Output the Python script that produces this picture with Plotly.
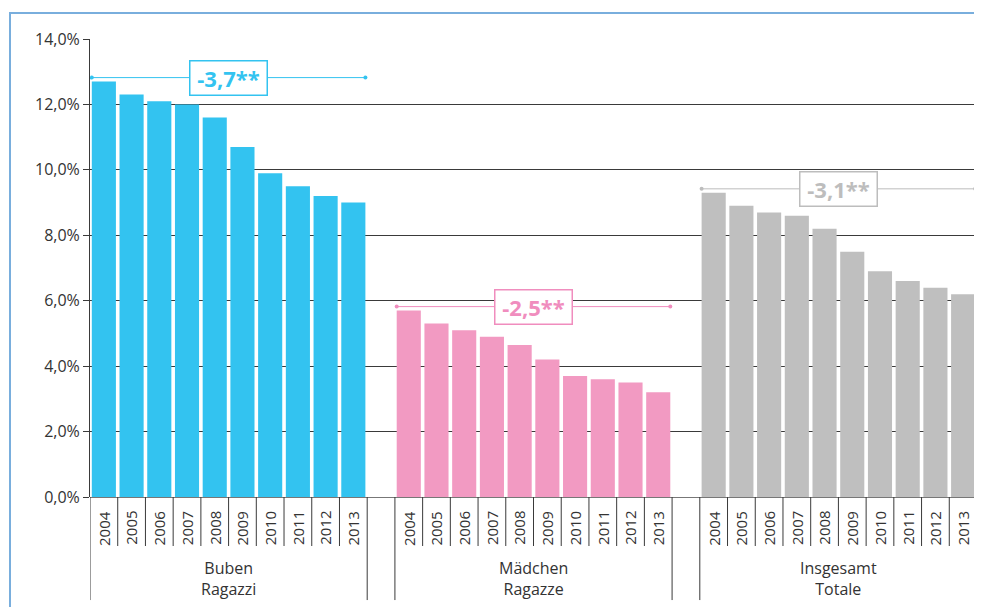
import plotly.graph_objects as go

years = ["2004", "2005", "2006", "2007", "2008", "2009", "2010", "2011", "2012", "2013"]
groups = ["Buben<br>Ragazzi", "Mädchen<br>Ragazze", "Insgesamt<br>Totale"]
buben = [12.7, 12.3, 12.1, 12.0, 11.6, 10.7, 9.9, 9.5, 9.2, 9.0]
maedchen = [5.7, 5.3, 5.1, 4.9, 4.65, 4.2, 3.7, 3.6, 3.5, 3.2]
insgesamt = [9.3, 8.9, 8.7, 8.6, 8.2, 7.5, 6.9, 6.6, 6.4, 6.2]
changes = ["-3,7**", "-2,5**", "-3,1**"]
colors = ["#33C3F0", "#F29AC2", "#BFBFBF"]
text_colors = ["#33C3F0", "#F08DBE", "#BDBDBD"]
y_ticks = [0, 2, 4, 6, 8, 10, 12, 14]

series = [buben, maedchen, insgesamt]
FONT = "Open Sans, Noto Sans, sans-serif"
DARK = "#3a3a3a"

fig = go.Figure()
annotations = []
shapes = []

n = len(years)
slot = n + 1  # 10 bars + one gap slot
total_slots = 3 * n + 2
bw = 0.87

for g, vals in enumerate(series):
    s0 = g * slot
    xs = [s0 + i for i in range(n)]
    fig.add_trace(go.Bar(x=xs, y=vals, marker=dict(color=colors[g], line=dict(width=0)),
                         width=bw, showlegend=False, hoverinfo="y"))
    # bracket line with end dots
    lvl = vals[0] + 0.12
    fig.add_trace(go.Scatter(x=[xs[0] - bw / 2, xs[-1] + bw / 2], y=[lvl, lvl], mode="lines+markers",
                             line=dict(color=text_colors[g], width=1),
                             marker=dict(size=4, color=text_colors[g]), showlegend=False, hoverinfo="skip"))
    annotations.append(dict(x=s0 + (n - 1) / 2, y=lvl, xref="x", yref="y", text="<b>" + changes[g] + "</b>",
                            showarrow=False, font=dict(family=FONT, size=22, color=text_colors[g]),
                            bgcolor="white", bordercolor=text_colors[g], borderwidth=1.5, borderpad=3,
                            width=70, height=27,
                            xanchor="center", yanchor="middle"))
    # year labels
    for i, yr in enumerate(years):
        annotations.append(dict(x=xs[i], y=-0.068, xref="x", yref="paper", text=yr, textangle=-90,
                                showarrow=False, font=dict(family=FONT, size=15, color="#333"),
                                xanchor="center", yanchor="middle"))
        if i > 0:
            shapes.append(dict(type="line", xref="x", yref="paper", x0=xs[i] - 0.5, x1=xs[i] - 0.5,
                               y0=0, y1=-0.107, line=dict(color=DARK, width=1)))
    # group label
    annotations.append(dict(x=s0 + (n - 1) / 2, y=-0.179, xref="x", yref="paper", text=groups[g],
                            showarrow=False, font=dict(family=FONT, size=16, color="#333"),
                            xanchor="center", yanchor="middle"))
    for xb in (s0 - 0.5, s0 + n - 0.5):
        shapes.append(dict(type="line", xref="x", yref="paper", x0=xb, x1=xb,
                           y0=0, y1=-0.225, line=dict(color=DARK, width=1)))

# outer frame
shapes.append(dict(type="rect", xref="paper", yref="paper", x0=-0.0902, x1=1.02, y0=-0.3, y1=1.0568,
                   line=dict(color="#79AEDD", width=2), fillcolor="rgba(0,0,0,0)", layer="below"))

fig.update_layout(
    width=974, height=599,
    margin=dict(l=82, r=5, t=31, b=110),
    paper_bgcolor="white", plot_bgcolor="white",
    bargap=0.13,
    annotations=annotations,
    shapes=shapes,
    xaxis=dict(range=[-0.5, total_slots - 0.5], showticklabels=False, showgrid=False, zeroline=False,
               showline=False, ticks=""),
    yaxis=dict(range=[0, 14], tickvals=y_ticks,
               ticktext=[f"{v:.1f}%".replace(".", ",") for v in y_ticks],
               showgrid=True, gridcolor=DARK, gridwidth=1, zeroline=True, zerolinecolor="#777",
               zerolinewidth=1, showline=True, linecolor=DARK, linewidth=1,
               ticks="outside", ticklen=6, tickcolor=DARK,
               tickfont=dict(family=FONT, size=16, color="#333")),
    font=dict(family=FONT),
)

fig.write_html("out.html")
